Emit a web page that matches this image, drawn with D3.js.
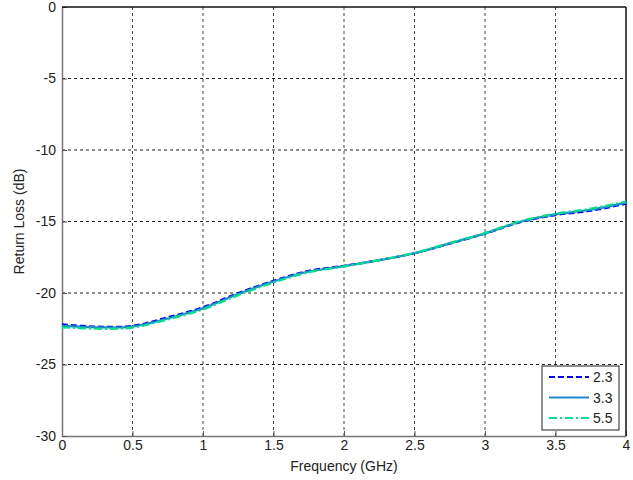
<!DOCTYPE html>
<html>
<head>
<meta charset="utf-8">
<script src="https://cdn.jsdelivr.net/npm/d3@7"></script>
<style>
  body { margin: 0; background: #fff; }
  text { font-family: "Liberation Sans", Arial, sans-serif; }
</style>
</head>
<body>
<svg id="chart"></svg>
<script>
// frequency samples (GHz)
const freq = [0, 0.25, 0.5, 0.75, 1.0, 1.25, 1.5, 1.75, 2.0, 2.25, 2.5, 2.75, 3.0, 3.25, 3.5, 3.75, 4.0];
// return loss (dB) per series
const rl23 = [-22.2, -22.35, -22.3, -21.7, -21.0, -20.0, -19.15, -18.45, -18.1, -17.7, -17.22, -16.55, -15.85, -15.05, -14.55, -14.25, -13.75];
const rl33 = [-22.3, -22.4, -22.35, -21.78, -21.07, -20.07, -19.2, -18.5, -18.12, -17.7, -17.22, -16.53, -15.83, -15.02, -14.5, -14.18, -13.68];
const rl55 = [-22.4, -22.5, -22.42, -21.85, -21.15, -20.15, -19.27, -18.55, -18.15, -17.7, -17.2, -16.5, -15.8, -14.98, -14.45, -14.1, -13.6];
const seriesNames = ['2.3', '3.3', '5.5'];
const xTicks = [0, 0.5, 1, 1.5, 2, 2.5, 3, 3.5, 4];
const yTicks = [0, -5, -10, -15, -20, -25, -30];

const config = {
  width: 633, height: 480,
  margin: {top: 7, right: 7, bottom: 44, left: 62}
};
const innerW = config.width - config.margin.left - config.margin.right;
const innerH = config.height - config.margin.top - config.margin.bottom;

const svg = d3.select('#chart')
    .attr('width', config.width)
    .attr('height', config.height);

const chart = svg.append('g')
    .attr('transform', `translate(${config.margin.left},${config.margin.top})`);

const xScale = d3.scaleLinear().domain([0, 4]).range([0, innerW]);
const yScale = d3.scaleLinear().domain([-30, 0]).range([innerH, 0]);

// Gridlines
chart.append('g')
  .selectAll('line')
  .data(xTicks.slice(1, -1))
  .join('line')
    .attr('x1', d => xScale(d)).attr('x2', d => xScale(d))
    .attr('y1', 0).attr('y2', innerH)
    .attr('stroke', '#444').attr('stroke-width', 1)
    .attr('stroke-dasharray', '3,3');

chart.append('g')
  .selectAll('line')
  .data(yTicks.slice(1, -1))
  .join('line')
    .attr('x1', 0).attr('x2', innerW)
    .attr('y1', d => yScale(d)).attr('y2', d => yScale(d))
    .attr('stroke', '#222').attr('stroke-width', 1)
    .attr('stroke-dasharray', '3,3');

// Axes (ticks pointing inward like MATLAB)
const xAxis = d3.axisBottom(xScale)
    .tickValues(xTicks)
    .tickFormat(d3.format('~g'))
    .tickSize(-5)
    .tickPadding(8)
    .tickSizeOuter(0);
const yAxis = d3.axisLeft(yScale)
    .tickValues(yTicks)
    .tickFormat(d => d)
    .tickSize(-5)
    .tickPadding(8)
    .tickSizeOuter(0);

const xAxisG = chart.append('g')
    .attr('transform', `translate(0,${innerH})`)
    .call(xAxis);
const yAxisG = chart.append('g').call(yAxis);

[xAxisG, yAxisG].forEach(g => {
  g.select('.domain').attr('stroke', '#777').attr('stroke-width', 1.5);
  g.selectAll('.tick line').attr('stroke', '#555');
  g.selectAll('.tick text')
    .attr('fill', '#222')
    .style('font-size', '14px')
    .style('font-family', '"Liberation Sans", Arial, sans-serif');
});
xAxisG.selectAll('.tick text').attr('dy', '0.85em').attr('y', 2);
yAxisG.selectAll('.tick text').attr('x', -6);

// top and right frame
chart.append('line')
    .attr('x1', 0).attr('x2', innerW).attr('y1', 0).attr('y2', 0)
    .attr('stroke', '#111').attr('stroke-width', 1.5);
chart.append('line')
    .attr('x1', innerW).attr('x2', innerW).attr('y1', 0).attr('y2', innerH)
    .attr('stroke', '#111').attr('stroke-width', 1.5);

// Series
const series = [
  {name: seriesNames[0], values: rl23, color: '#0000ff', dash: '6,3', width: 2.2},
  {name: seriesNames[1], values: rl33, color: '#1e88cc', dash: null, width: 2.2},
  {name: seriesNames[2], values: rl55, color: '#00e28a', dash: '8,3,2,3', width: 2.2}
];

const line = d3.line()
    .x((d, i) => xScale(freq[i]))
    .y(d => yScale(d))
    .curve(d3.curveCatmullRom.alpha(0.5));

chart.selectAll('.series')
  .data(series)
  .join('path')
    .attr('class', 'series')
    .attr('fill', 'none')
    .attr('stroke', d => d.color)
    .attr('stroke-width', d => d.width)
    .attr('stroke-dasharray', d => d.dash)
    .attr('d', d => line(d.values));

// Axis titles
svg.append('text')
    .attr('x', config.margin.left + innerW / 2)
    .attr('y', 471)
    .attr('text-anchor', 'middle')
    .attr('fill', '#222')
    .style('font-size', '14px')
    .text('Frequency (GHz)');

svg.append('text')
    .attr('transform', `translate(24,${config.margin.top + innerH / 2}) rotate(-90)`)
    .attr('text-anchor', 'middle')
    .attr('fill', '#222')
    .style('font-size', '14px')
    .text('Return Loss (dB)');

// Legend
const legend = svg.append('g').attr('transform', 'translate(542,366)');
legend.append('rect')
    .attr('width', 77).attr('height', 64)
    .attr('fill', '#fff')
    .attr('stroke', '#222').attr('stroke-width', 1);

const legendItems = legend.selectAll('.legend-item')
  .data(series)
  .join('g')
    .attr('class', 'legend-item')
    .attr('transform', (d, i) => `translate(0,${11 + i * 20.5})`);

legendItems.append('line')
    .attr('x1', 7).attr('x2', 47)
    .attr('stroke', d => d.color)
    .attr('stroke-width', 2.2)
    .attr('stroke-dasharray', d => d.dash);

legendItems.append('text')
    .attr('x', 51).attr('y', 5)
    .attr('fill', '#222')
    .style('font-size', '14px')
    .text(d => d.name);
</script>
</body>
</html>
